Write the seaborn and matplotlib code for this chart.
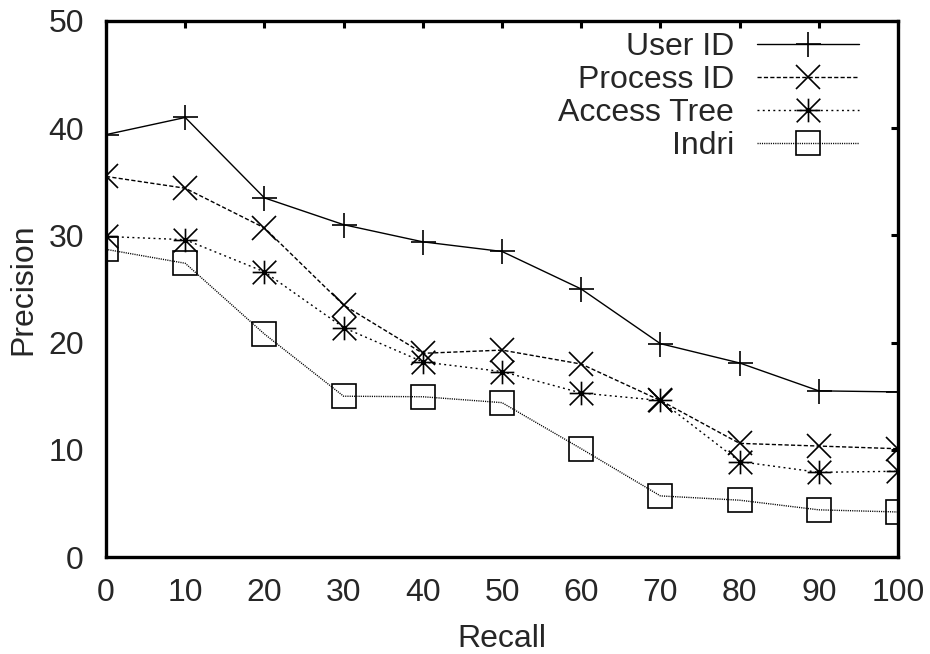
import numpy as np
import pandas as pd
import matplotlib
matplotlib.use("Agg")
import matplotlib.pyplot as plt
import seaborn as sns
from matplotlib.path import Path

recall = [0, 10, 20, 30, 40, 50, 60, 70, 80, 90, 100]
user_id = [39.4, 41.0, 33.5, 31.0, 29.4, 28.5, 25.0, 19.9, 18.1, 15.5, 15.4]
process_id = [35.5, 34.4, 30.7, 23.5, 19.0, 19.3, 18.0, 14.6, 10.6, 10.35, 10.1]
access_tree = [29.9, 29.6, 26.6, 21.4, 18.2, 17.3, 15.3, 14.6, 8.9, 7.9, 8.0]
indri = [28.7, 27.4, 20.8, 15.0, 14.95, 14.4, 10.1, 5.7, 5.3, 4.4, 4.2]
series_names = ["User ID", "Process ID", "Access Tree", "Indri"]
x_ticks = [0, 10, 20, 30, 40, 50, 60, 70, 80, 90, 100]
y_ticks = [0, 10, 20, 30, 40, 50]

sns.set_style("white")
plt.rcParams["font.family"] = ["Liberation Sans", "DejaVu Sans"]

asterisk = Path([(-1, 0), (1, 0), (0, -1), (0, 1), (-1, -1), (1, 1), (-1, 1), (1, -1)],
                [Path.MOVETO, Path.LINETO] * 4)

styles = [
    dict(marker="+", markersize=18, linestyle="-"),
    dict(marker="x", markersize=17, linestyle=(0, (3, 1.6))),
    dict(marker=asterisk, markersize=17, linestyle=(0, (1.4, 2.4))),
    dict(marker="s", markersize=17, linestyle=(0, (0.8, 0.8)), fillstyle="none"),
]

FS = 23

fig = plt.figure(figsize=(9.3, 6.54), dpi=100)
ax = fig.add_axes([0.114, 0.1483, 0.8516, 0.8196])

for name, vals, st in zip(series_names, [user_id, process_id, access_tree, indri], styles):
    df = pd.DataFrame({"Recall": recall, "Precision": vals})
    sns.lineplot(data=df, x="Recall", y="Precision", ax=ax, color="black",
                 linewidth=1.0, markeredgewidth=1.2, markeredgecolor="black",
                 label=name, **st)

ax.set_xlim(0, 100)
ax.set_ylim(0, 50)
ax.set_xticks(x_ticks)
ax.set_yticks(y_ticks)
ax.tick_params(axis="both", direction="in", length=5, width=2.2, labelsize=FS,
               top=True, right=True, color="black")
ax.tick_params(axis="x", pad=15)
ax.tick_params(axis="y", pad=16)
for s in ax.spines.values():
    s.set_linewidth(2.4)
    s.set_color("black")
ax.set_xlabel("Recall", fontsize=FS, labelpad=11.5)
ax.set_ylabel("Precision", fontsize=FS, labelpad=7)

handles, labels = ax.get_legend_handles_labels()
ax.legend(handles, labels, loc="upper right", frameon=False, markerfirst=False,
          fontsize=FS, handlelength=3.2, labelspacing=0.09, handletextpad=0.72,
          borderaxespad=0.0, borderpad=0.2, bbox_to_anchor=(0.959, 0.991))

fig.savefig("out.png", dpi=100)
